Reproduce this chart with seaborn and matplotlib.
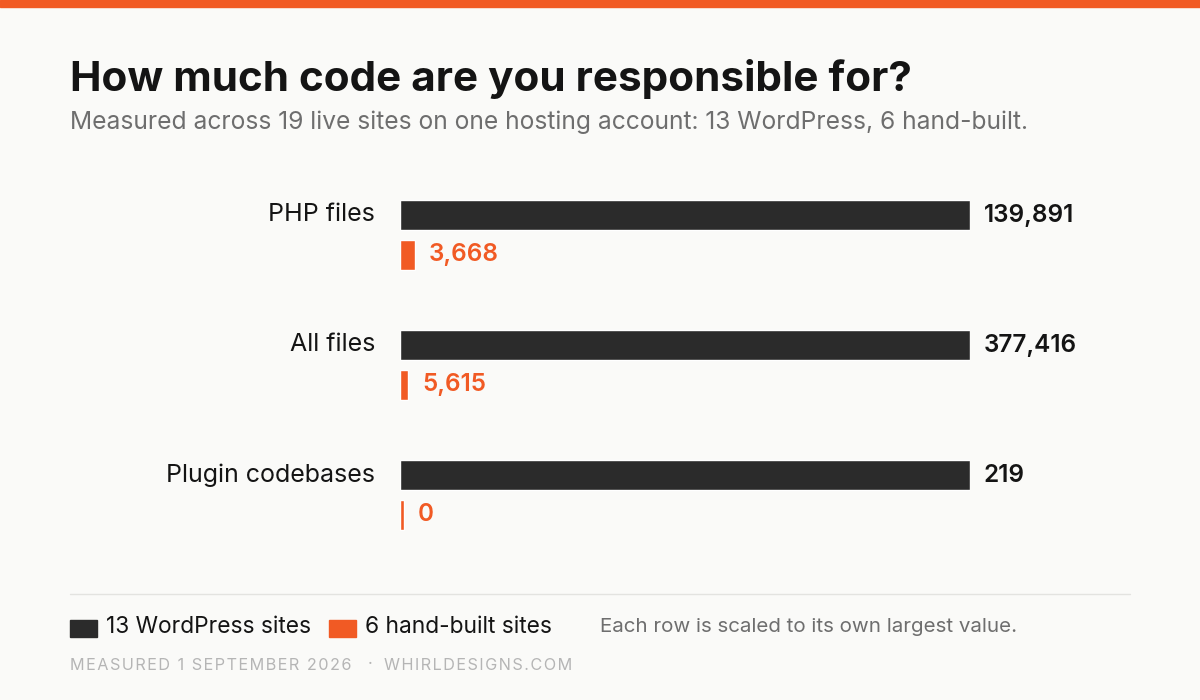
import pandas as pd
import numpy as np
import matplotlib.pyplot as plt
import matplotlib.transforms as mtransforms
import seaborn as sns

# Data
metrics = ["PHP files", "All files", "Plugin codebases"]
wordpress = [139891, 377416, 219]
handbuilt = [3668, 5615, 0]
groups = ["13 WordPress sites", "6 hand-built sites"]

DARK = "#2B2B2B"
ORANGE = "#F15A24"
BG = "#FAFAF8"

sns.set_theme(style="white")
plt.rcParams["font.family"] = ["Inter", "DejaVu Sans"]

# each row scaled to its own largest value; tiny floor so zero still shows a stub
rows = []
for m, w, h in zip(metrics, wordpress, handbuilt):
    top = max(w, h)
    for g, v in zip(groups, [w, h]):
        rows.append({"metric": m, "group": g, "value": v,
                     "scaled": max(v / top, 0.007)})
df = pd.DataFrame(rows)

fig = plt.figure(figsize=(12, 7), dpi=100)
fig.patch.set_facecolor(BG)
ax = fig.add_axes([400 / 1200, 1 - 560 / 700, 570 / 1200, 390 / 700])
ax.set_facecolor(BG)

sns.barplot(data=df, y="metric", x="scaled", hue="group", orient="h",
            palette=[DARK, ORANGE], width=0.615, gap=0.25, dodge=True,
            legend=False, ax=ax, saturation=1)

ax.set_xlim(0, 1)
ax.set_ylim(2.5, -0.5)
ax.set_xlabel("")
ax.set_ylabel("")
ax.set_xticks([])
ax.set_yticks([])
for s in ax.spines.values():
    s.set_visible(False)

# row labels, centred on the WordPress bar
trans = mtransforms.blended_transform_factory(fig.transFigure, ax.transData)
for i, m in enumerate(metrics):
    ax.text(375 / 1200, i - 0.154, m, transform=trans, ha="right", va="center",
            fontsize=18, color="#141414")

# value labels
for cont, g, col in zip(ax.containers, groups, ["#141414", ORANGE]):
    vals = df[df["group"] == g]["value"].tolist()
    ax.bar_label(cont, labels=[f"{v:,}" for v in vals], padding=10,
                 fontsize=17.5, fontweight="semibold", color=col)

# header
fig.add_artist(plt.Rectangle((0, 1 - 7 / 700), 1, 7 / 700, color=ORANGE,
                             transform=fig.transFigure))
fig.text(70 / 1200, 1 - 79 / 700, "How much code are you responsible for?",
         fontsize=30.4, fontweight="bold", color="#141414", va="center")
fig.text(70 / 1200, 1 - 122 / 700,
         "Measured across 19 live sites on one hosting account: 13 WordPress, 6 hand-built.",
         fontsize=17.7, color="#6E6E6E", va="center")

# footer
fig.add_artist(plt.Line2D([70 / 1200, 1130 / 1200], [1 - 594 / 700] * 2,
                          color="#E3E3E0", lw=1, transform=fig.transFigure))
for g, c, tx in zip(groups, [DARK, ORANGE], [70, 329]):
    fig.add_artist(plt.Rectangle((tx / 1200, 1 - 637 / 700), 27 / 1200, 17 / 700,
                                 color=c, transform=fig.transFigure))
    fig.text((tx + 36) / 1200, 1 - 627 / 700, g, fontsize=16.4,
             color="#141414", va="center")
fig.text(600 / 1200, 1 - 627 / 700, "Each row is scaled to its own largest value.",
         fontsize=14.8, color="#6E6E6E", va="center")


def spaced(s):
    # letter-spacing for the small caps footer
    return "\u200a".join(s)


fig.text(70 / 1200, 1 - 665 / 700, spaced("MEASURED 1 SEPTEMBER 2026"),
         fontsize=11.7, color="#B5B5B5", va="center")
fig.text(370 / 1200, 1 - 665 / 700, "·", fontsize=12, color="#B5B5B5",
         va="center", ha="center")
fig.text(384 / 1200, 1 - 665 / 700, spaced("WHIRLDESIGNS.COM"),
         fontsize=11.7, color="#B5B5B5", va="center")

fig.savefig("out.png", dpi=100, facecolor=BG)
